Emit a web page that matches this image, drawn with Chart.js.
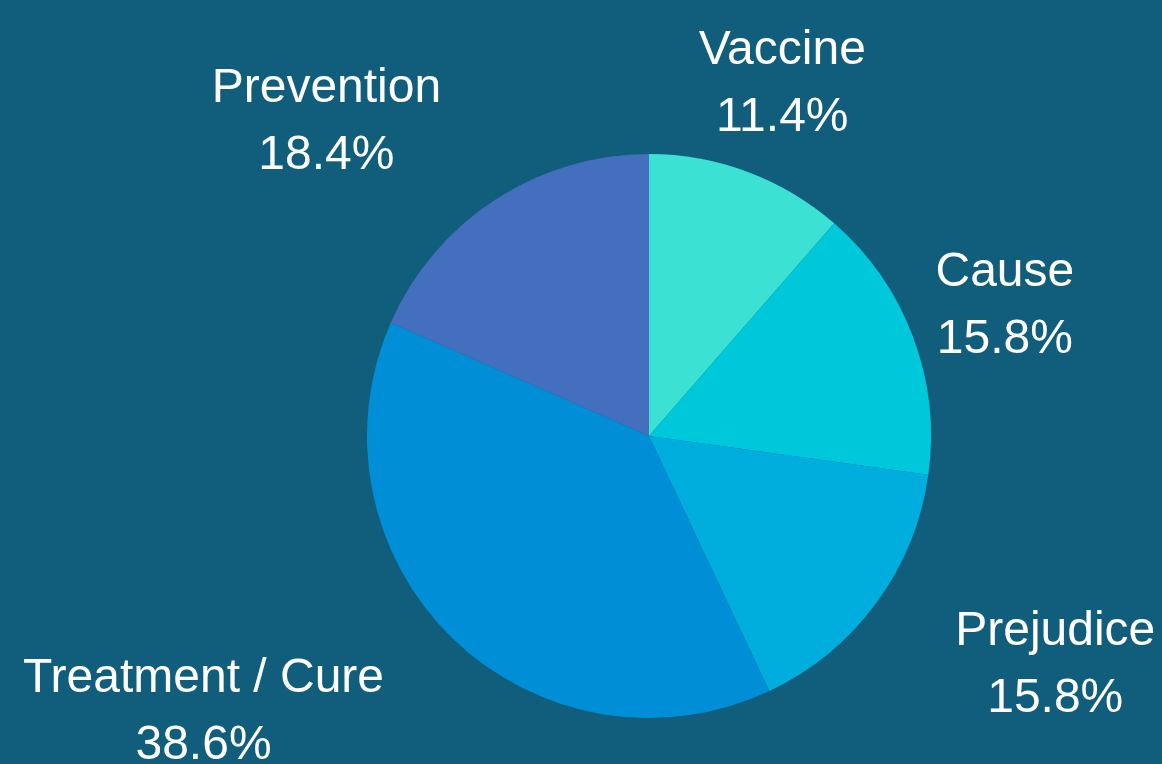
<!DOCTYPE html>
<html>
<head>
<meta charset="utf-8">
<script src="https://cdn.jsdelivr.net/npm/chart.js@4/dist/chart.umd.min.js"></script>
<style>
  html, body { margin: 0; padding: 0; background: #105e7b; }
  #wrap { width: 1162px; height: 764px; position: relative; }
</style>
</head>
<body>
<div id="wrap"><canvas id="pie"></canvas></div>
<script>
// 分類ごとの件数（合計114）
const categories = ['Vaccine', 'Cause', 'Prejudice', 'Treatment / Cure', 'Prevention'];
const counts = [13, 18, 18, 44, 21];
const sliceColors = ['#3be2d4', '#00c8db', '#00aedd', '#008fd6', '#446ebe'];

// 外側ラベル描画プラグイン
const outsideLabels = {
    id: 'outsideLabels',
    afterDatasetsDraw(chart) {
        const ctx = chart.ctx;
        const meta = chart.getDatasetMeta(0);
        const total = counts.reduce((a, b) => a + b, 0);
        const fontSize = 48;
        const lineGap = 67;
        ctx.save();
        ctx.font = fontSize + 'px "Liberation Sans", Arial, sans-serif';
        ctx.fillStyle = '#ffffff';
        ctx.textBaseline = 'alphabetic';

        meta.data.forEach((arc, i) => {
            const p = arc.getProps(['x', 'y', 'startAngle', 'endAngle', 'outerRadius'], true);
            const mid = (p.startAngle + p.endAngle) / 2;
            const dist = p.outerRadius + 98;
            const ax = p.x + Math.cos(mid) * dist;
            const ay = p.y + Math.sin(mid) * dist;

            const lines = [categories[i], (counts[i] / total * 100).toFixed(1) + '%'];
            const w = Math.max(...lines.map(t => ctx.measureText(t).width));
            const h = 110;

            // 中央揃えで円と重なるか確認
            const nx = Math.max(ax - w / 2, Math.min(p.x, ax + w / 2));
            const ny = Math.max(ay - h / 2, Math.min(p.y, ay + h / 2));
            const overlap = Math.hypot(nx - p.x, ny - p.y) < p.outerRadius + 8;

            let cx = ax;
            if (overlap) {
                cx = Math.cos(mid) >= 0 ? ax + w / 2 : ax - w / 2;
            }
            ctx.textAlign = 'center';
            const capH = fontSize * 0.716;
            lines.forEach((t, k) => {
                const midY = ay + (k - 0.5) * lineGap;
                ctx.fillText(t, cx, midY + capH / 2);
            });
        });
        ctx.restore();
    }
};

new Chart(document.getElementById('pie'), {
    type: 'pie',
    data: {
        labels: categories,
        datasets: [{
            data: counts,
            backgroundColor: sliceColors,
            borderWidth: 0
        }]
    },
    options: {
        responsive: true,
        maintainAspectRatio: false,
        animation: false,
        layout: {
            padding: { top: 154, bottom: 46, left: 367, right: 231 }
        },
        plugins: {
            legend: { display: false },
            tooltip: { enabled: false }
        }
    },
    plugins: [outsideLabels]
});
</script>
</body>
</html>
